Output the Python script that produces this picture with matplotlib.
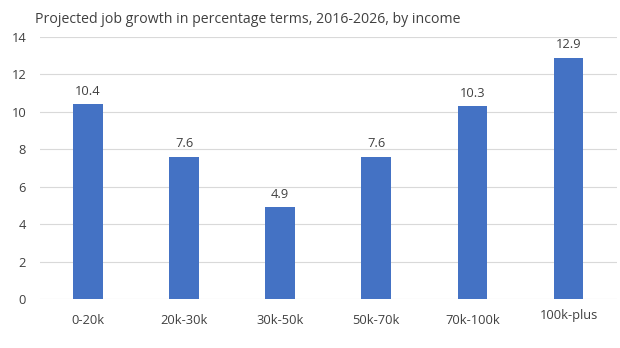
import numpy as np
import matplotlib.pyplot as plt
from matplotlib.transforms import ScaledTranslation

plt.rcParams['font.family'] = ['Open Sans', 'DejaVu Sans']

categories = ['0-20k', '20k-30k', '30k-50k', '50k-70k', '70k-100k', '100k-plus']
growth = [10.4, 7.6, 4.9, 7.6, 10.3, 12.9]

fig = plt.figure(figsize=(6.2, 3.48), dpi=100)
ax = fig.add_axes([0.0645, 0.1408, 0.93, 0.753])

x = np.arange(len(categories))
ax.bar(x, growth, width=0.31, color='#4472C4', zorder=3)

for xi, v in zip(x, growth):
    ax.text(xi, v + 0.35, f'{v:.1f}', ha='center', va='bottom',
            fontsize=9.3, color='#404040')

ax.set_xlim(-0.5, len(categories) - 0.5)
ax.set_ylim(0, 14)
ax.set_yticks(np.arange(0, 15, 2))
ax.set_xticks(x)
ax.set_xticklabels(categories)
ax.grid(axis='y', color='#d9d9d9', lw=0.8, zorder=0)
for s in ax.spines.values():
    s.set_visible(False)
ax.tick_params(length=0, labelsize=9.3, colors='#404040')
ax.tick_params(axis='x', pad=11)
ax.tick_params(axis='y', pad=10)

# last category label sits a little higher in the original
lbl = ax.get_xticklabels()[-1]
lbl.set_transform(lbl.get_transform() + ScaledTranslation(0, 4 / 72, fig.dpi_scale_trans))

fig.text(0.056, 0.945, 'Projected job growth in percentage terms, 2016-2026, by income',
         fontsize=10.2, color='#404040', va='center')

fig.savefig('out.png', dpi=100)
